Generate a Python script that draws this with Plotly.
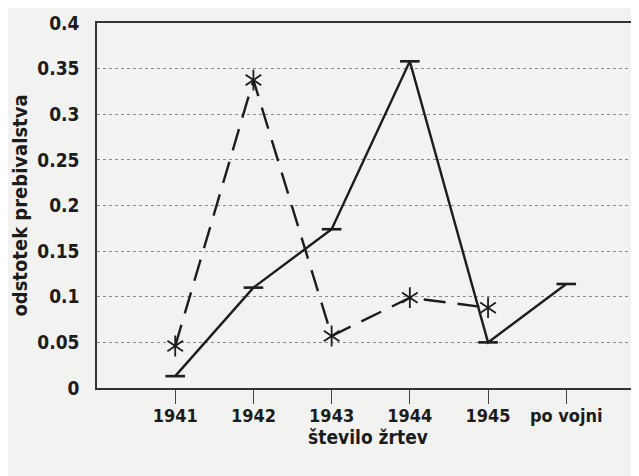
import plotly.graph_objects as go

categories = ["1941", "1942", "1943", "1944", "1945", "po vojni"]
solid_values = [0.013, 0.110, 0.174, 0.358, 0.050, 0.114]
dashed_values = [0.046, 0.3375, 0.057, 0.099, 0.088, None]
y_ticks = [0, 0.05, 0.1, 0.15, 0.2, 0.25, 0.3, 0.35, 0.4]
y_tick_labels = ["0", "0.05", "0.1", "0.15", "0.2", "0.25", "0.3", "0.35", "0.4"]

FONT = "DejaVu Sans Condensed, Liberation Sans Narrow, Arial Narrow, Liberation Sans, sans-serif"
INK = "#1c1c1c"

fig = go.Figure()
fig.add_trace(go.Scatter(
    x=categories, y=solid_values, mode="lines+markers",
    line=dict(color=INK, width=2.4),
    marker=dict(symbol="line-ew", size=14, line=dict(color=INK, width=2.6)),
    showlegend=False,
))
fig.add_trace(go.Scatter(
    x=categories, y=dashed_values, mode="lines",
    line=dict(color=INK, width=2.4, dash="22px,12px"),
    showlegend=False, connectgaps=False,
))
# six-armed asterisk markers built from two Y-shaped symbols
for sym in ["y-up-open", "y-down-open"]:
    fig.add_trace(go.Scatter(
        x=categories, y=dashed_values, mode="markers",
        marker=dict(symbol=sym, size=13, color=INK, line=dict(color=INK, width=1.8)),
        showlegend=False,
    ))

# page body has an 8px default margin, so the figure is offset by 8px
fig.update_layout(
    width=631, height=468,
    margin=dict(l=89, r=0, t=15, b=88),
    paper_bgcolor="#f2f2f0", plot_bgcolor="#f2f2f0",
    font=dict(family=FONT, size=16, color=INK),
    xaxis=dict(
        type="category", categoryorder="array", categoryarray=categories,
        range=[-1, 5.93], automargin=False,
        showline=True, linecolor="#333333", linewidth=1.5, mirror=True,
        ticks="outside", ticklen=14, tickcolor="#444444", tickwidth=1.2,
        ticklabelstandoff=-3,
        showgrid=False, zeroline=False,
        tickfont=dict(family=FONT, size=18, color=INK, weight="bold"),
        title=dict(text="število žrtev", font=dict(family=FONT, size=19, color=INK, weight="bold"), standoff=2),
    ),
    yaxis=dict(
        range=[0, 0.4], tickmode="array", tickvals=y_ticks, ticktext=y_tick_labels,
        automargin=False,
        showline=True, linecolor="#333333", linewidth=1.5,
        ticks="", showgrid=True, gridcolor="#8a8a8a", griddash="dot", gridwidth=1,
        zeroline=False, ticklabelstandoff=12,
        tickfont=dict(family=FONT, size=19, color=INK, weight="bold"),
        title=dict(text="odstotek prebivalstva", font=dict(family=FONT, size=20, color=INK, weight="bold"), standoff=14),
    ),
)

fig.write_html("out.html")
